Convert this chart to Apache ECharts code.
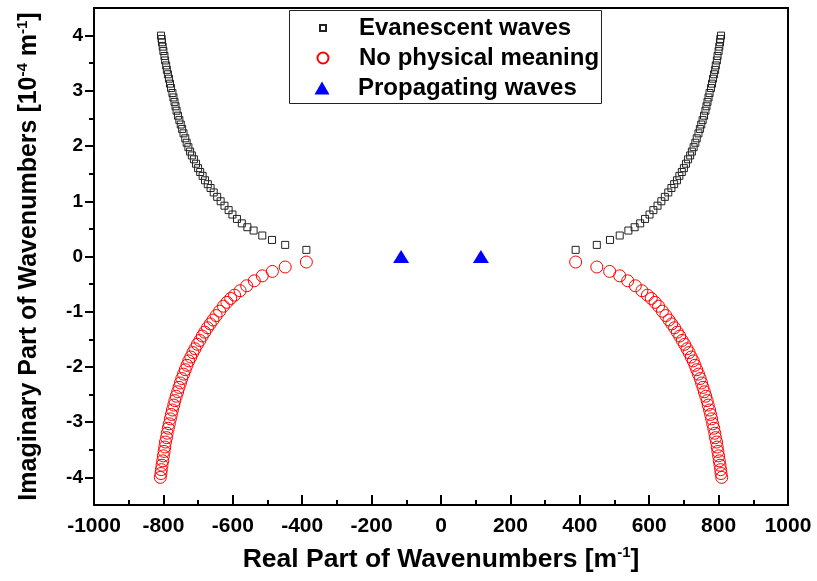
<!DOCTYPE html>
<html>
<head>
<meta charset="utf-8">
<script src="https://cdn.jsdelivr.net/npm/echarts@6/dist/echarts.min.js"></script>
<style>html,body{margin:0;padding:0;background:#fff}#c{width:817px;height:581px}</style>
</head>
<body>
<div id="c"></div>
<script>
// ---- data (Real part [1/m], Imag part [1e-4 1/m]) ----
const evanescentLeft = [[-388,0.12],[-449,0.21],[-487,0.30],[-515,0.38],[-540,0.47],[-558,0.53],[-574,0.60],[-588,0.68],[-601,0.76],[-612,0.84],[-624,0.92],[-635,1.00],[-645,1.08],[-655,1.16],[-664,1.24],[-672,1.31],[-680,1.38],[-687,1.46],[-694,1.53],[-700,1.60],[-706,1.68],[-712,1.76],[-718,1.83],[-723,1.90],[-728,1.98],[-733,2.06],[-737,2.14],[-742,2.23],[-746,2.31],[-750,2.39],[-754,2.47],[-758,2.55],[-762,2.64],[-765,2.72],[-768,2.80],[-771,2.88],[-774,2.96],[-778,3.05],[-781,3.13],[-784,3.22],[-787,3.30],[-790,3.38],[-792,3.46],[-795,3.55],[-797,3.63],[-800,3.72],[-802,3.80],[-804,3.88],[-805,3.94],[-807,4.00]];
const evanescentRight = [[388,0.12],[449,0.21],[487,0.30],[515,0.38],[540,0.47],[558,0.53],[574,0.60],[588,0.68],[601,0.76],[612,0.84],[624,0.92],[635,1.00],[645,1.08],[655,1.16],[664,1.24],[672,1.31],[680,1.38],[687,1.46],[694,1.53],[700,1.60],[706,1.68],[712,1.76],[718,1.83],[723,1.90],[728,1.98],[733,2.06],[737,2.14],[742,2.23],[746,2.31],[750,2.39],[754,2.47],[758,2.55],[762,2.64],[765,2.72],[768,2.80],[771,2.88],[774,2.96],[778,3.05],[781,3.13],[784,3.22],[787,3.30],[790,3.38],[792,3.46],[795,3.55],[797,3.63],[800,3.72],[802,3.80],[804,3.88],[805,3.94],[807,4.00]];
const noPhysicalLeft = [[-388,-0.10],[-449,-0.19],[-486,-0.27],[-515,-0.35],[-538,-0.44],[-560,-0.53],[-579,-0.62],[-595,-0.70],[-606,-0.76],[-617,-0.83],[-627,-0.90],[-638,-0.99],[-648,-1.07],[-657,-1.15],[-665,-1.22],[-673,-1.29],[-681,-1.37],[-688,-1.44],[-695,-1.52],[-702,-1.59],[-709,-1.67],[-715,-1.74],[-721,-1.82],[-727,-1.89],[-732,-1.97],[-737,-2.05],[-742,-2.13],[-747,-2.21],[-751,-2.29],[-755,-2.37],[-759,-2.45],[-763,-2.53],[-767,-2.61],[-770,-2.69],[-774,-2.78],[-777,-2.86],[-780,-2.94],[-783,-3.03],[-786,-3.11],[-789,-3.20],[-791,-3.28],[-794,-3.36],[-796,-3.45],[-798,-3.53],[-800,-3.61],[-802,-3.70],[-804,-3.78],[-806,-3.86],[-807,-3.93],[-809,-4.00]];
const noPhysicalRight = [[388,-0.10],[449,-0.19],[486,-0.27],[515,-0.35],[538,-0.44],[560,-0.53],[579,-0.62],[595,-0.70],[606,-0.76],[617,-0.83],[627,-0.90],[638,-0.99],[648,-1.07],[657,-1.15],[665,-1.22],[673,-1.29],[681,-1.37],[688,-1.44],[695,-1.52],[702,-1.59],[709,-1.67],[715,-1.74],[721,-1.82],[727,-1.89],[732,-1.97],[737,-2.05],[742,-2.13],[747,-2.21],[751,-2.29],[755,-2.37],[759,-2.45],[763,-2.53],[767,-2.61],[770,-2.69],[774,-2.78],[777,-2.86],[780,-2.94],[783,-3.03],[786,-3.11],[789,-3.20],[791,-3.28],[794,-3.36],[796,-3.45],[798,-3.53],[800,-3.61],[802,-3.70],[804,-3.78],[806,-3.86],[807,-3.93],[809,-4.00]];
const propagating = [[-115,0],[115,0]];
const seriesNames = ['Evanescent waves','No physical meaning','Propagating waves'];
const yTickValues = [-4,-3,-2,-1,0,1,2,3,4];
const yMinorTickValues = [-3.5,-2.5,-1.5,-0.5,0.5,1.5,2.5,3.5];

const FONT = "'Liberation Sans', Arial, sans-serif";
const chart = echarts.init(document.getElementById('c'), null, {renderer:'canvas'});
function legendFor(name, w, h, top, pad){
  return {
    data:[name], orient:'vertical', left:322 - w/2, top:top, itemWidth:w, itemHeight:h,
    padding:0, selectedMode:false,
    textStyle:{fontFamily:FONT, fontWeight:'bold', fontSize:24, color:'#000', lineHeight:26, padding:[0,0,0,pad]}
  };
}
chart.setOption({
  animation:false,
  backgroundColor:'#fff',
  grid:{left:94, right:29, top:8, bottom:76, show:true, borderColor:'#000', borderWidth:2, backgroundColor:'transparent'},
  xAxis:{
    type:'value', min:-1000, max:1000, interval:200,
    name:'{t|Real Part of Wavenumbers [m}{s|-1}{t|]}',
    nameLocation:'middle', nameGap:40,
    nameTextStyle:{rich:{
      t:{fontFamily:FONT, fontWeight:'bold', fontSize:26.5, color:'#000', lineHeight:30},
      s:{fontFamily:FONT, fontWeight:'bold', fontSize:15, color:'#000', verticalAlign:'top', lineHeight:30}
    }},
    axisLine:{show:true, onZero:false, lineStyle:{color:'#000', width:2}},
    axisTick:{show:true, inside:true, length:10, lineStyle:{color:'#000', width:2}},
    minorTick:{show:true, splitNumber:2, length:5, lineStyle:{color:'#000', width:2}},
    splitLine:{show:false},
    axisLabel:{fontFamily:FONT, fontWeight:'bold', fontSize:21, color:'#000', margin:11,
      formatter:function(v){return String(v);}}
  },
  yAxis:[{
    type:'value', min:-4.5, max:4.5,
    name:'{t|Imaginary Part of Wavenumbers [10}{s|-4}{t| m}{s|-1}{t|]}',
    nameLocation:'middle', nameGap:50, nameRotate:90,
    nameTextStyle:{rich:{
      t:{fontFamily:FONT, fontWeight:'bold', fontSize:25, color:'#000', lineHeight:29},
      s:{fontFamily:FONT, fontWeight:'bold', fontSize:15, color:'#000', verticalAlign:'top', lineHeight:29}
    }},
    axisLine:{show:true, onZero:false, lineStyle:{color:'#000', width:2}},
    axisTick:{show:true, inside:false, length:9, customValues:yTickValues, lineStyle:{color:'#000', width:2}},
    splitLine:{show:false},
    axisLabel:{fontFamily:FONT, fontWeight:'bold', fontSize:19, color:'#000', margin:11, customValues:yTickValues}
  },{
    type:'value', min:-4.5, max:4.5, position:'left',
    axisLine:{show:false, onZero:false},
    axisTick:{show:true, inside:false, length:5, customValues:yMinorTickValues, lineStyle:{color:'#000', width:2}},
    axisLabel:{show:false},
    splitLine:{show:false}
  }],
  legend:[
    legendFor(seriesNames[0], 6, 6, 15, 28),
    legendFor(seriesNames[1], 11, 11, 45, 25.5),
    legendFor(seriesNames[2], 15, 13, 75, 23.5)
  ],
  graphic:[{type:'rect', shape:{x:289.5, y:10.5, width:312, height:93}, style:{fill:'none', stroke:'#222', lineWidth:1}, silent:true}],
  series:[
    {name:seriesNames[0], type:'scatter', symbol:'rect', symbolSize:7,
     itemStyle:{color:'rgba(255,255,255,0)', borderColor:'#222', borderWidth:1, opacity:1},
     emphasis:{disabled:true}, data:evanescentLeft.concat(evanescentRight)},
    {name:seriesNames[1], type:'scatter', symbol:'circle', symbolSize:12,
     itemStyle:{color:'rgba(255,255,255,0)', borderColor:'#ff0000', borderWidth:1, opacity:1},
     emphasis:{disabled:true}, data:noPhysicalLeft.concat(noPhysicalRight)},
    {name:seriesNames[2], type:'scatter', symbol:'triangle', symbolSize:[16,13],
     itemStyle:{color:'#0000ff', opacity:1},
     emphasis:{disabled:true}, data:propagating}
  ]
});
</script>
</body>
</html>
